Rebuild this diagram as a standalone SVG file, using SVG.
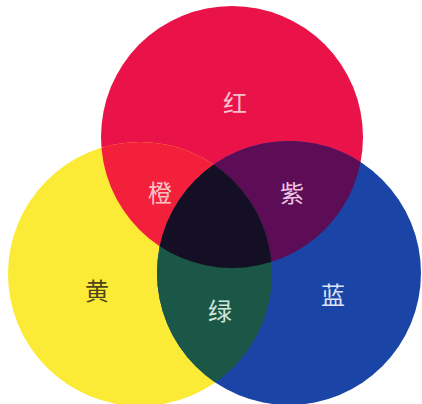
<svg xmlns="http://www.w3.org/2000/svg" width="422" height="404" viewBox="0 0 422 404">
<style>
.t{font-family:"Noto Sans CJK SC","Noto Sans CJK JP",sans-serif;font-size:24px;text-anchor:middle;dominant-baseline:central}
</style>
<defs>
<clipPath id="cR"><circle cx="232" cy="137" r="131"/></clipPath>
<clipPath id="cY"><circle cx="140" cy="274" r="132"/></clipPath>
<clipPath id="cB"><circle cx="289" cy="273" r="132"/></clipPath>
</defs>
<rect width="422" height="404" fill="#ffffff"/>
<g id="red"><circle cx="232" cy="137" r="131" fill="#ea1349"/></g>
<g id="yellow"><circle cx="140" cy="274" r="132" fill="#fbea36"/></g>
<g id="blue"><circle cx="289" cy="273" r="132" fill="#1a45a6"/></g>
<g id="orange" clip-path="url(#cR)"><circle cx="140" cy="274" r="132" fill="#f2203a"/></g>
<g id="purple" clip-path="url(#cR)"><circle cx="289" cy="273" r="132" fill="#5c0d55"/></g>
<g id="green" clip-path="url(#cY)"><circle cx="289" cy="273" r="132" fill="#1b5747"/></g>
<g id="center" clip-path="url(#cR)"><g clip-path="url(#cY)"><circle cx="289" cy="273" r="132" fill="#140f24"/></g></g>
<g id="labels">
<text class="t" x="235" y="101" fill="#f6c0cc">红</text>
<text class="t" x="160" y="191" fill="#f8c4c8">橙</text>
<text class="t" x="292" y="191" fill="#ecc4e4">紫</text>
<text class="t" x="97" y="289" fill="#4e4418">黄</text>
<text class="t" x="220" y="309" fill="#cfe6d8">绿</text>
<text class="t" x="333" y="293" fill="#dde4f6">蓝</text>
</g>
</svg>
